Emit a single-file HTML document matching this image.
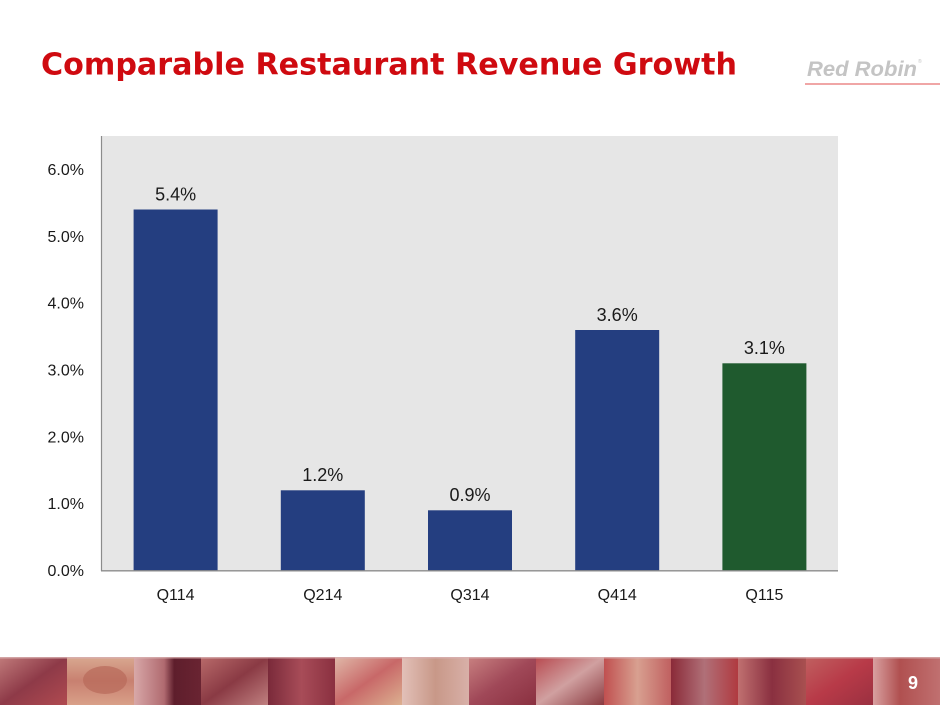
<!DOCTYPE html>
<html>
<head>
<meta charset="utf-8">
<style>
  html, body { margin: 0; padding: 0; background: #ffffff; }
  body { width: 940px; height: 705px; overflow: hidden; }
  svg { display: block; }
</style>
</head>
<body>
<svg width="940" height="705" viewBox="0 0 940 705" xmlns="http://www.w3.org/2000/svg">
  <defs>
    <linearGradient id="t1" x1="0" y1="0" x2="1" y2="1"><stop offset="0" stop-color="#c07a7a"/><stop offset="0.5" stop-color="#8e3a48"/><stop offset="1" stop-color="#b04a50"/></linearGradient>
    <linearGradient id="t2" x1="0" y1="0" x2="0" y2="1"><stop offset="0" stop-color="#d8a890"/><stop offset="0.5" stop-color="#c88070"/><stop offset="1" stop-color="#d9a088"/></linearGradient>
    <linearGradient id="t3" x1="0" y1="0" x2="1" y2="0"><stop offset="0" stop-color="#d8a8a8"/><stop offset="0.45" stop-color="#b06a70"/><stop offset="0.6" stop-color="#5e1e2c"/><stop offset="1" stop-color="#6a2432"/></linearGradient>
    <linearGradient id="t4" x1="0" y1="0" x2="1" y2="1"><stop offset="0" stop-color="#b86a6a"/><stop offset="0.5" stop-color="#8a3a44"/><stop offset="1" stop-color="#c08080"/></linearGradient>
    <linearGradient id="t5" x1="0" y1="0" x2="1" y2="0"><stop offset="0" stop-color="#7a2a3a"/><stop offset="0.5" stop-color="#a84c58"/><stop offset="1" stop-color="#8a3040"/></linearGradient>
    <linearGradient id="t6" x1="0" y1="0" x2="1" y2="1"><stop offset="0" stop-color="#e0b8a8"/><stop offset="0.5" stop-color="#c86868"/><stop offset="1" stop-color="#dcb090"/></linearGradient>
    <linearGradient id="t7" x1="0" y1="0" x2="1" y2="0"><stop offset="0" stop-color="#e2c0b8"/><stop offset="0.5" stop-color="#c89888"/><stop offset="1" stop-color="#d8b0a8"/></linearGradient>
    <linearGradient id="t8" x1="0" y1="0" x2="1" y2="1"><stop offset="0" stop-color="#c88080"/><stop offset="0.5" stop-color="#a04858"/><stop offset="1" stop-color="#8a3040"/></linearGradient>
    <linearGradient id="t9" x1="0" y1="0" x2="1" y2="1"><stop offset="0" stop-color="#b84a50"/><stop offset="0.5" stop-color="#d0a0a0"/><stop offset="1" stop-color="#8a3a40"/></linearGradient>
    <linearGradient id="t10" x1="0" y1="0" x2="1" y2="0"><stop offset="0" stop-color="#c05050"/><stop offset="0.5" stop-color="#d8a090"/><stop offset="1" stop-color="#c06060"/></linearGradient>
    <linearGradient id="t11" x1="0" y1="0" x2="1" y2="0"><stop offset="0" stop-color="#8a2a38"/><stop offset="0.5" stop-color="#b07078"/><stop offset="1" stop-color="#b03a40"/></linearGradient>
    <linearGradient id="t12" x1="0" y1="0" x2="1" y2="0"><stop offset="0" stop-color="#c07070"/><stop offset="0.5" stop-color="#8a3040"/><stop offset="1" stop-color="#a85050"/></linearGradient>
    <linearGradient id="t13" x1="0" y1="0" x2="1" y2="1"><stop offset="0" stop-color="#c06060"/><stop offset="0.5" stop-color="#b83a48"/><stop offset="1" stop-color="#9a3040"/></linearGradient>
    <linearGradient id="t14" x1="0" y1="0" x2="1" y2="0"><stop offset="0" stop-color="#d8a0a0"/><stop offset="0.4" stop-color="#b05050"/><stop offset="1" stop-color="#c07070"/></linearGradient>
  </defs>

  <!-- Title -->
  <text x="41" y="74.5" font-family="'DejaVu Sans', 'Liberation Sans', sans-serif" font-weight="bold" font-size="30" fill="#cf0a10" textLength="696" lengthAdjust="spacingAndGlyphs">Comparable Restaurant Revenue Growth</text>

  <!-- Logo -->
  <text x="807" y="76" font-family="'Liberation Sans', sans-serif" font-weight="bold" font-style="italic" font-size="21" fill="#c4c4c4" textLength="110" lengthAdjust="spacingAndGlyphs">Red Robin</text>
  <text x="918" y="63" font-family="'Liberation Sans', sans-serif" font-size="5" fill="#c4c4c4">®</text>
  <rect x="805" y="83" width="135" height="2" fill="#f0a6a6"/>

  <!-- Plot area -->
  <rect x="102" y="136" width="736" height="435" fill="#e6e6e6"/>

  <!-- Bars -->
  <rect x="133.6" y="209.5" width="84" height="361" fill="#243e80"/>
  <rect x="280.8" y="490.3" width="84" height="80.2" fill="#243e80"/>
  <rect x="428" y="510.3" width="84" height="60.2" fill="#243e80"/>
  <rect x="575.2" y="330" width="84" height="240.5" fill="#243e80"/>
  <rect x="722.4" y="363.3" width="84" height="207.2" fill="#1f5a2e"/>

  <!-- Axes -->
  <line x1="101.5" y1="136" x2="101.5" y2="571" stroke="#8c8c8c" stroke-width="1.2"/>
  <line x1="101" y1="570.8" x2="838" y2="570.8" stroke="#8c8c8c" stroke-width="1.4"/>

  <!-- Y tick labels -->
  <g font-family="'Liberation Sans', sans-serif" font-size="16" fill="#1a1a1a" text-anchor="end">
    <text x="84" y="576">0.0%</text>
    <text x="84" y="509.2">1.0%</text>
    <text x="84" y="442.3">2.0%</text>
    <text x="84" y="375.5">3.0%</text>
    <text x="84" y="308.6">4.0%</text>
    <text x="84" y="241.8">5.0%</text>
    <text x="84" y="174.9">6.0%</text>
  </g>

  <!-- Data labels -->
  <g font-family="'Liberation Sans', sans-serif" font-size="18" fill="#1a1a1a" text-anchor="middle">
    <text x="175.6" y="200.3">5.4%</text>
    <text x="322.8" y="481.2">1.2%</text>
    <text x="470" y="501.2">0.9%</text>
    <text x="617.2" y="320.8">3.6%</text>
    <text x="764.4" y="354.2">3.1%</text>
  </g>

  <!-- Category labels -->
  <g font-family="'Liberation Sans', sans-serif" font-size="16" fill="#1a1a1a" text-anchor="middle">
    <text x="175.6" y="600">Q114</text>
    <text x="322.8" y="600">Q214</text>
    <text x="470" y="600">Q314</text>
    <text x="617.2" y="600">Q414</text>
    <text x="764.4" y="600">Q115</text>
  </g>

  <!-- Footer photo strip -->
  <g>
    <rect x="0" y="657" width="67" height="48" fill="url(#t1)"/>
    <rect x="67" y="657" width="67" height="48" fill="url(#t2)"/>
    <ellipse cx="105" cy="680" rx="22" ry="14" fill="#b86a5a" opacity="0.7"/>
    <rect x="134" y="657" width="67" height="48" fill="url(#t3)"/>
    <rect x="201" y="657" width="67" height="48" fill="url(#t4)"/>
    <rect x="268" y="657" width="67" height="48" fill="url(#t5)"/>
    <rect x="335" y="657" width="67" height="48" fill="url(#t6)"/>
    <rect x="402" y="657" width="67" height="48" fill="url(#t7)"/>
    <rect x="469" y="657" width="67" height="48" fill="url(#t8)"/>
    <rect x="536" y="657" width="68" height="48" fill="url(#t9)"/>
    <rect x="604" y="657" width="67" height="48" fill="url(#t10)"/>
    <rect x="671" y="657" width="67" height="48" fill="url(#t11)"/>
    <rect x="738" y="657" width="68" height="48" fill="url(#t12)"/>
    <rect x="806" y="657" width="67" height="48" fill="url(#t13)"/>
    <rect x="873" y="657" width="67" height="48" fill="url(#t14)"/>
    <rect x="0" y="657" width="940" height="1.5" fill="#d8b0b0" opacity="0.8"/>
  </g>

  <!-- Page number -->
  <text x="913" y="689" font-family="'Liberation Sans', sans-serif" font-weight="bold" font-size="18" fill="#ffffff" text-anchor="middle">9</text>
</svg>
</body>
</html>
